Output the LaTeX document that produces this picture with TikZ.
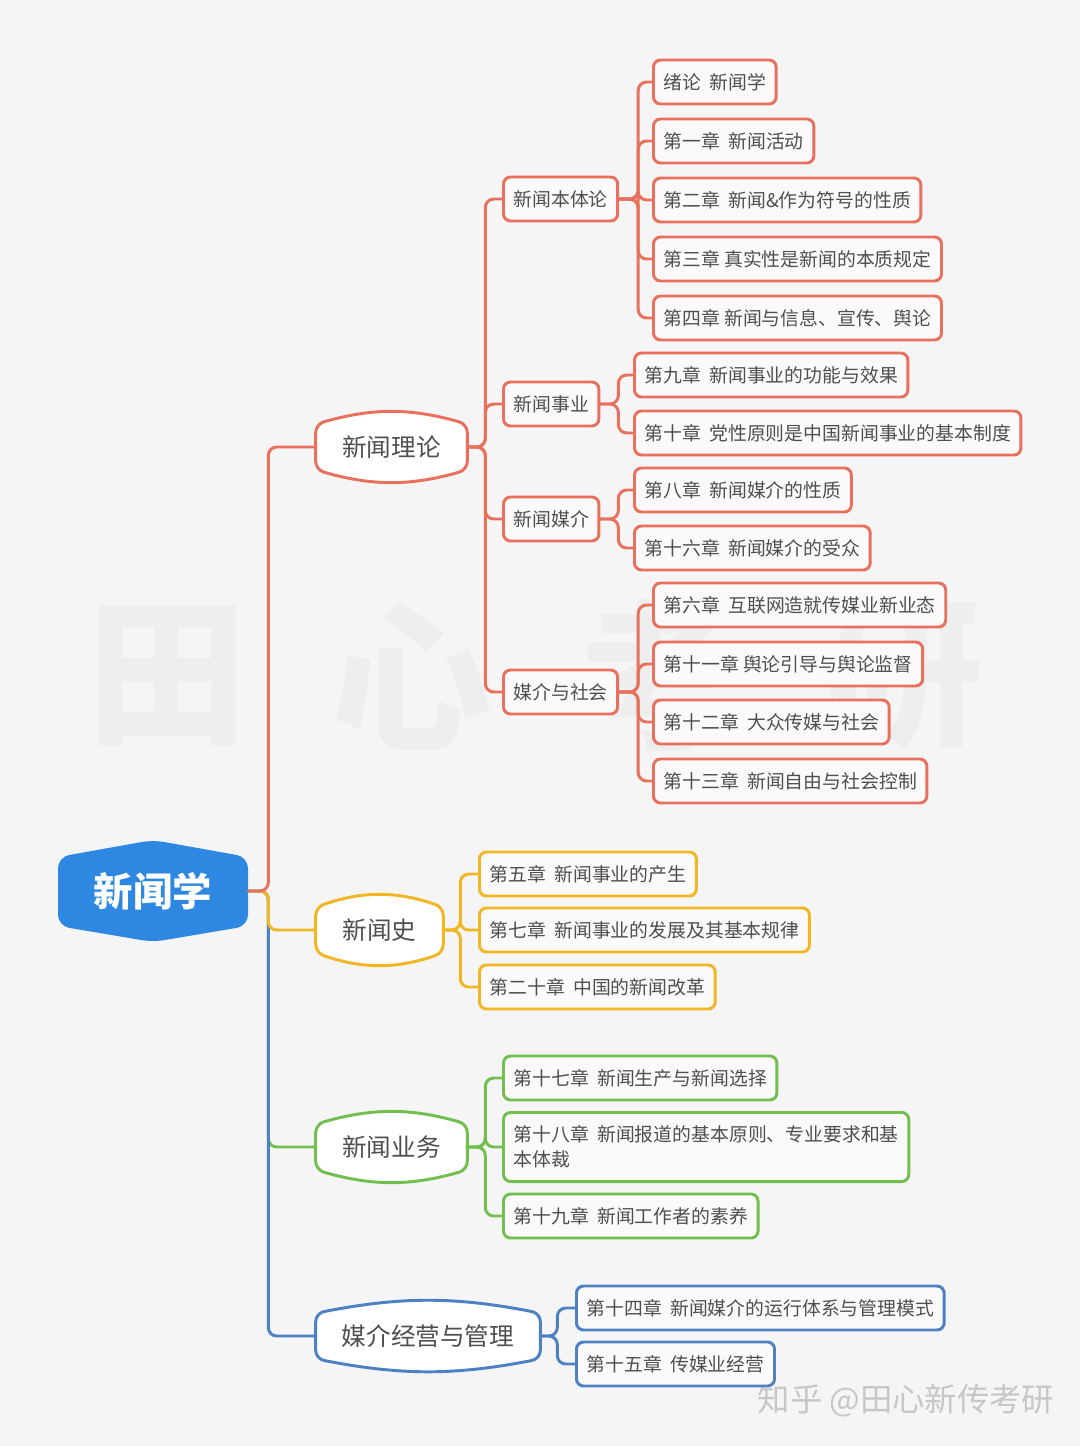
\documentclass[tikz,border=0pt]{standalone}
\usepackage{fontspec}
\setmainfont{Noto Sans CJK SC}
\usetikzlibrary{backgrounds}

\definecolor{bgcol}{HTML}{F6F5F6}
\definecolor{rootblue}{HTML}{2E88E2}
\definecolor{linered}{HTML}{E8715E}
\definecolor{lineyellow}{HTML}{F1B623}
\definecolor{linegreen}{HTML}{72BF50}
\definecolor{lineblue}{HTML}{4E81C2}
\definecolor{txtgray}{HTML}{4F4F4F}
\definecolor{wmgray}{HTML}{EFEEEF}
\definecolor{boxfill}{HTML}{FBF9F9}

% outline of a main branch node: straight sides, bulging top and bottom
\newcommand{\branchframe}[3]{%
  \begin{scope}[on background layer]
    \draw[draw=#2, line width=2.1pt, fill=white, rounded corners=6pt]
      (#1.west) -- ([yshift=8.5pt]#1.south west)
      to[bend right=#3] ([yshift=8.5pt]#1.south east)
      -- ([yshift=-8.5pt]#1.north east)
      to[bend right=#3] ([yshift=-8.5pt]#1.north west) -- cycle;
  \end{scope}}

\begin{document}
\begin{tikzpicture}[x=0.025cm, y=-0.025cm, line cap=round, line join=round,
  chap/.style={draw=#1, line width=2.1pt, rounded corners=5pt, fill=boxfill,
    text=txtgray, font=\fontsize{13.4}{17.8}\selectfont, anchor=west,
    inner xsep=0.25cm, minimum height=1.1cm, align=left},
  branch/.style={text=txtgray, font=\fontsize{17.5}{20}\selectfont,
    minimum height=1.725cm},
  link/.style={draw=#1, line width=2.1pt, rounded corners=6pt},
  wmark/.style={text=wmgray, font=\fontsize{114}{114}\selectfont\bfseries}]

  %========================
  % background and watermarks
  %========================
  \begin{scope}[on background layer]
    \fill[bgcol] (0,0) rectangle (1080,1446);
    \node[wmark] (wm1) at (168,676) {田};
    \node[wmark] (wm2) at (412,676) {心};
    \node[wmark] (wm3) at (658,676) {考};
    \node[wmark] (wm4) at (903,676) {研};
  \end{scope}
  \node[text=black!22, font=\fontsize{23}{25}\selectfont] (zhihu) at (906,1401) {知乎 @田心新传考研};

  %========================
  % root
  %========================
  \fill[rootblue, rounded corners=8pt]
    (58,857) -- (153,840) -- (248,857) -- (248,926) -- (153,942) -- (58,926) -- cycle;
  \node[text=white, font=\fontsize{28}{30}\selectfont\bfseries,
    minimum width=4.75cm, minimum height=2.55cm] (root) at (153,891) {新闻学};

  %========================
  % main branches
  %========================
  \node[branch, minimum width=3.775cm] (theory) at (391.5,447) {新闻理论};
  \node[branch, minimum width=3.175cm] (history) at (379.5,930) {新闻史};
  \node[branch, minimum width=3.775cm] (practice) at (391.5,1147) {新闻业务};
  \node[branch, minimum width=5.6cm] (manage) at (428,1336) {媒介经营与管理};
  \branchframe{theory}{linered}{16}
  \branchframe{history}{lineyellow}{19}
  \branchframe{practice}{linegreen}{16}
  \branchframe{manage}{lineblue}{11}

  % trunk from the root (later ones lie on top)
  \draw[link=linegreen] (root.east) -- ++(20,0) |- (practice.west);
  \draw[link=lineblue] (root.east) -- ++(20,0) |- (manage.west);
  \draw[link=lineyellow] (root.east) -- ++(20,0) |- (history.west);
  \draw[link=linered] (root.east) -- ++(20,0) |- (theory.west);

  %========================
  % 新闻理论
  %========================
  \node[chap=linered] (ontology) at (502,199) {新闻本体论};
  \node[chap=linered] (cause) at (502,404) {新闻事业};
  \node[chap=linered] (media) at (502,519) {新闻媒介};
  \node[chap=linered] (society) at (502,692) {媒介与社会};
  \foreach \c in {ontology,cause,media,society}
    \draw[link=linered] (theory.east) -- ++(18,0) |- (\c.west);

  % 新闻本体论
  \node[chap=linered] (ch0) at (652,82) {绪论~~新闻学};
  \node[chap=linered] (ch1) at (652,141) {第一章~~新闻活动};
  \node[chap=linered] (ch2) at (652,200) {第二章~~新闻\&作为符号的性质};
  \node[chap=linered] (ch3) at (652,259) {第三章 真实性是新闻的本质规定};
  \node[chap=linered] (ch4) at (652,318) {第四章 新闻与信息、宣传、舆论};
  \foreach \c in {ch0,ch1,ch2,ch3,ch4}
    \draw[link=linered] (ontology.east) -- ++(19,0) |- (\c.west);

  % 新闻事业
  \node[chap=linered] (ch9) at (633,375) {第九章~~新闻事业的功能与效果};
  \node[chap=linered] (ch10) at (633,433) {第十章~~党性原则是中国新闻事业的基本制度};
  \foreach \c in {ch9,ch10}
    \draw[link=linered] (cause.east) -- ++(18,0) |- (\c.west);

  % 新闻媒介
  \node[chap=linered] (ch8) at (633,490) {第八章~~新闻媒介的性质};
  \node[chap=linered] (ch16) at (633,548) {第十六章~~新闻媒介的受众};
  \foreach \c in {ch8,ch16}
    \draw[link=linered] (media.east) -- ++(18,0) |- (\c.west);

  % 媒介与社会
  \node[chap=linered] (ch6) at (652,605) {第六章~~互联网造就传媒业新业态};
  \node[chap=linered] (ch11) at (652,664) {第十一章 舆论引导与舆论监督};
  \node[chap=linered] (ch12) at (652,722) {第十二章~~大众传媒与社会};
  \node[chap=linered] (ch13) at (652,781) {第十三章~~新闻自由与社会控制};
  \foreach \c in {ch6,ch11,ch12,ch13}
    \draw[link=linered] (society.east) -- ++(19,0) |- (\c.west);

  %========================
  % 新闻史
  %========================
  \node[chap=lineyellow] (ch5) at (478,874) {第五章~~新闻事业的产生};
  \node[chap=lineyellow] (ch7) at (478,930) {第七章~~新闻事业的发展及其基本规律};
  \node[chap=lineyellow] (ch20) at (478,987) {第二十章~~中国的新闻改革};
  \foreach \c in {ch5,ch7,ch20}
    \draw[link=lineyellow] (history.east) -- ++(17,0) |- (\c.west);

  %========================
  % 新闻业务
  %========================
  \node[chap=linegreen] (ch17) at (502,1078) {第十七章~~新闻生产与新闻选择};
  \node[chap=linegreen, minimum height=1.725cm] (ch18) at (502,1147)
    {第十八章~~新闻报道的基本原则、专业要求和基\\本体裁};
  \node[chap=linegreen] (ch19) at (502,1216) {第十九章~~新闻工作者的素养};
  \foreach \c in {ch17,ch18,ch19}
    \draw[link=linegreen] (practice.east) -- ++(18,0) |- (\c.west);

  %========================
  % 媒介经营与管理
  %========================
  \node[chap=lineblue] (ch14) at (575,1308) {第十四章~~新闻媒介的运行体系与管理模式};
  \node[chap=lineblue] (ch15) at (575,1364) {第十五章~~传媒业经营};
  \foreach \c in {ch14,ch15}
    \draw[link=lineblue] (manage.east) -- ++(17,0) |- (\c.west);

\end{tikzpicture}
\end{document}
